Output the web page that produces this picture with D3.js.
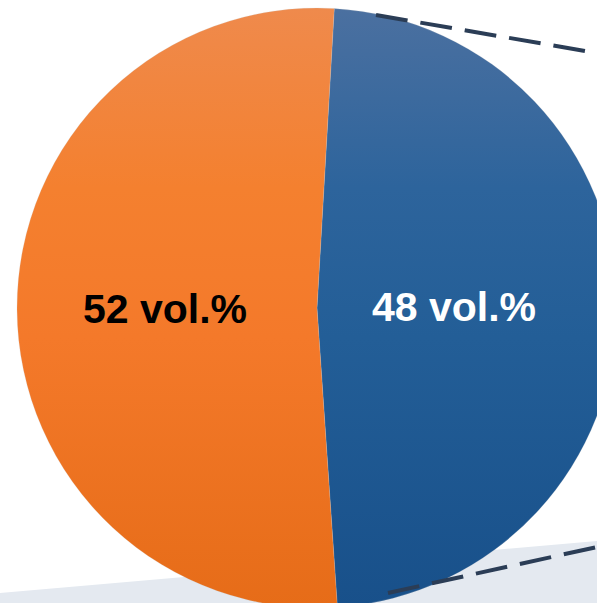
<!DOCTYPE html>
<html>
<head>
<meta charset="utf-8">
<script src="https://cdn.jsdelivr.net/npm/d3@7/dist/d3.min.js"></script>
<style>
  html, body { margin: 0; padding: 0; background: #fff; }
  svg { display: block; }
</style>
</head>
<body>
<div class="pieChart"></div>
<script>
// data
const categories = ["48 vol.%", "52 vol.%"];
const values = [48, 52];
const labels = ["48 vol.%", "52 vol.%"];

const width = 597, height = 603;
const cx = 317, cy = 308, radius = 300;
const startDeg = 3.3;

const svg = d3.select(".pieChart").append("svg")
    .attr("width", width)
    .attr("height", height);

const defs = svg.append("defs");

// vertical shading for each slice: [offset, colour]
// (gradient space is the translated pie group, so it runs -radius..radius)
const gradStops = [
    [[0, "#4b70a0"], [0.3, "#2d649c"], [0.55, "#235e97"], [1, "#18508a"]],
    [[0, "#ef8a4c"], [0.3, "#f4802f"], [0.55, "#f4792a"], [1, "#e66c18"]]
];
gradStops.forEach((stops, i) => {
    const lg = defs.append("linearGradient")
        .attr("id", "grad" + i)
        .attr("gradientUnits", "userSpaceOnUse")
        .attr("x1", 0).attr("y1", -radius)
        .attr("x2", 0).attr("y2", radius);
    stops.forEach(s => {
        lg.append("stop").attr("offset", s[0] * 100 + "%").attr("stop-color", s[1]);
    });
});

// grey floor band behind the pie
const band = [[0, 593], [597, 541], [597, 603], [0, 603]];
svg.append("path")
    .attr("d", d3.line()(band) + "Z")
    .attr("fill", "#e4e9f0");

const g = svg.append("g").attr("transform", `translate(${cx},${cy})`);

const pie = d3.pie()
    .sort(null)
    .startAngle(startDeg * Math.PI / 180)
    .endAngle(startDeg * Math.PI / 180 + 2 * Math.PI);

const arc = d3.arc().innerRadius(0).outerRadius(radius);

const arcs = pie(values);

g.selectAll("path.slice")
    .data(arcs)
    .enter()
    .append("path")
    .attr("class", "slice")
    .attr("d", arc)
    .attr("fill", (d, i) => `url(#grad${i})`)
    .attr("stroke", "rgba(200,200,200,0.25)")
    .attr("stroke-width", 0.8);

// labels
const labelRadius = [137, 152];
g.selectAll("text.lbl")
    .data(arcs)
    .enter()
    .append("text")
    .attr("class", "lbl")
    .attr("x", (d, i) => d3.arc().innerRadius(labelRadius[i]).outerRadius(labelRadius[i]).centroid(d)[0])
    .attr("y", (d, i) => d3.arc().innerRadius(labelRadius[i]).outerRadius(labelRadius[i]).centroid(d)[1] + 14)
    .attr("text-anchor", "middle")
    .style("font-family", "'Liberation Sans', Arial, sans-serif")
    .style("font-weight", "bold")
    .style("font-size", "41px")
    .style("fill", (d, i) => i === 0 ? "#ffffff" : "#000000")
    .text((d, i) => labels[i]);

// dashed callout lines toward the (cropped) detail on the right
const connectors = [
    [[376, 15], [597, 53]],
    [[388, 593], [597, 547]]
];
svg.selectAll("line.conn")
    .data(connectors)
    .enter()
    .append("line")
    .attr("class", "conn")
    .attr("x1", d => d[0][0]).attr("y1", d => d[0][1])
    .attr("x2", d => d[1][0]).attr("y2", d => d[1][1])
    .attr("stroke", "#2b3d56")
    .attr("stroke-width", 4)
    .attr("stroke-dasharray", "32,13");
</script>
</body>
</html>
